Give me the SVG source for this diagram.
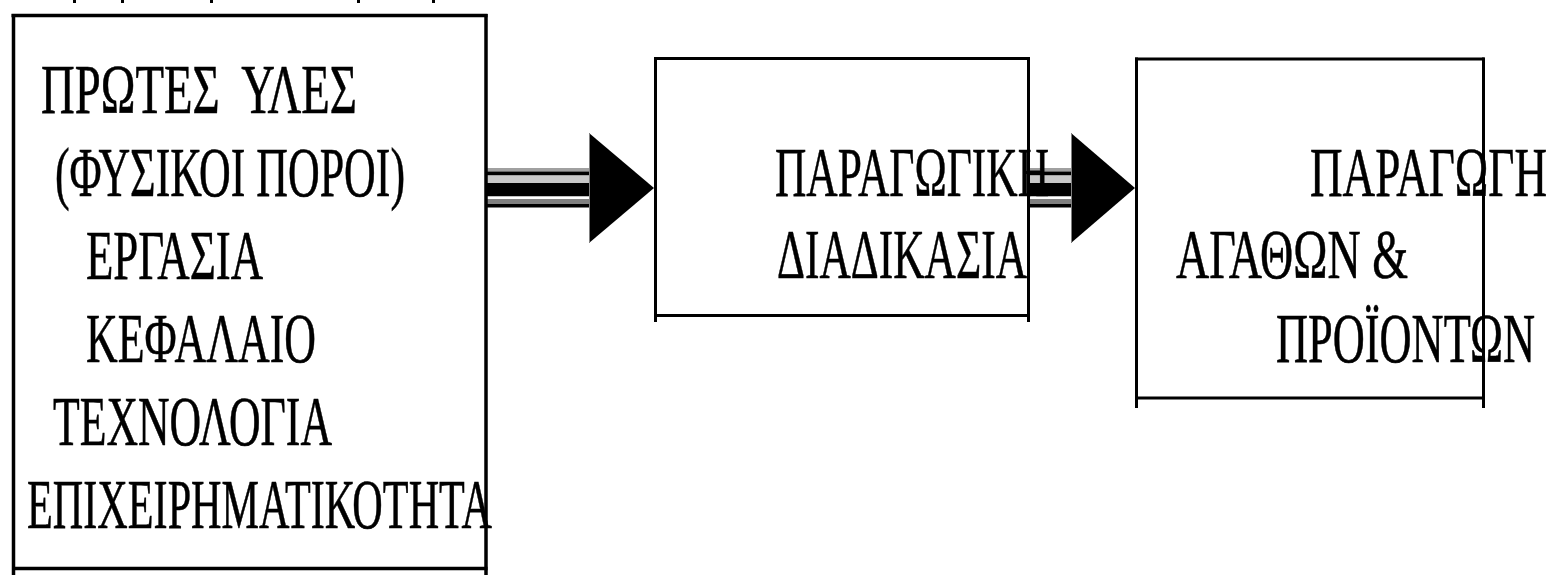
<svg xmlns="http://www.w3.org/2000/svg" width="1552" height="575" viewBox="0 0 1552 575">
<style>
  .t { font-family: "Liberation Serif", "Times New Roman", serif; font-size: 70px; fill: #000; stroke: #000; stroke-width: 0.6; }
  .b { stroke: #000; stroke-width: 3; fill: none; stroke-linecap: butt; }
  .b1 { stroke: #000; stroke-width: 3.5; fill: none; stroke-linecap: butt; }
</style>
<defs>
  <g id="shaft">
    <rect x="0" y="168" width="1" height="3.5" fill="#a0a0a0"/>
    <rect x="0" y="171.5" width="1" height="4" fill="#000"/>
    <rect x="0" y="175.5" width="1" height="7.5" fill="#c8c8c8"/>
    <rect x="0" y="183" width="1" height="13.5" fill="#000"/>
    <rect x="0" y="196.5" width="1" height="2.5" fill="#fff"/>
    <rect x="0" y="199" width="1" height="5" fill="#808080"/>
    <rect x="0" y="204" width="1" height="3.5" fill="#000"/>
  </g>
</defs>
<rect width="1552" height="575" fill="#fff"/>
<g id="top-marks" fill="#000">
  <rect x="73" y="0" width="3" height="3"/>
  <rect x="121" y="0" width="3" height="3"/>
  <rect x="210" y="0" width="3" height="3"/>
  <rect x="357" y="0" width="3" height="3"/>
  <rect x="432" y="0" width="3" height="3"/>
</g>
<g id="connectors">
  <g id="arrow1">
    <use href="#shaft" transform="translate(487 0) scale(102 1)"/>
    <polygon points="589,133 654,188 589,243" fill="#000"/>
    <line x1="589.5" y1="133" x2="589.5" y2="243" stroke="#808080" stroke-width="1"/>
  </g>
  <g id="arrow2">
    <use href="#shaft" transform="translate(1029 0) scale(42 1)"/>
    <polygon points="1071,133 1135,188 1071,243" fill="#000"/>
    <line x1="1071.5" y1="133" x2="1071.5" y2="243" stroke="#808080" stroke-width="1"/>
  </g>
</g>
<g id="node-inputs">
  <line class="b1" x1="11.5" y1="15.5" x2="487.5" y2="15.5"/>
  <line class="b1" x1="13.5" y1="14" x2="13.5" y2="575"/>
  <line class="b1" x1="486" y1="14" x2="486" y2="575"/>
  <line class="b1" x1="12" y1="568.5" x2="487.5" y2="568.5"/>
  <text class="t" x="41" y="113" textLength="316" lengthAdjust="spacingAndGlyphs" xml:space="preserve">ΠΡΩΤΕΣ  ΥΛΕΣ</text>
  <text class="t" x="55" y="196" textLength="350" lengthAdjust="spacingAndGlyphs">(ΦΥΣΙΚΟΙ ΠΟΡΟΙ)</text>
  <text class="t" x="86" y="279" textLength="177" lengthAdjust="spacingAndGlyphs">ΕΡΓΑΣΙΑ</text>
  <text class="t" x="86" y="362" textLength="230" lengthAdjust="spacingAndGlyphs">ΚΕΦΑΛΑΙΟ</text>
  <text class="t" x="53" y="445" textLength="279" lengthAdjust="spacingAndGlyphs">ΤΕΧΝΟΛΟΓΙΑ</text>
  <text class="t" x="27" y="528" textLength="465" lengthAdjust="spacingAndGlyphs">ΕΠΙΧΕΙΡΗΜΑΤΙΚΟΤΗΤΑ</text>
</g>
<g id="node-process">
  <line class="b" x1="654" y1="58.5" x2="1029.5" y2="58.5"/>
  <line class="b" x1="655.5" y1="57" x2="655.5" y2="322"/>
  <line class="b" x1="1028.5" y1="57" x2="1028.5" y2="322"/>
  <line class="b" x1="654" y1="315.5" x2="1029.5" y2="315.5"/>
  <text class="t" x="775" y="196" textLength="274" lengthAdjust="spacingAndGlyphs">ΠΑΡΑΓΩΓΙΚΗ</text>
  <text class="t" x="777" y="278" textLength="250" lengthAdjust="spacingAndGlyphs">ΔΙΑΔΙΚΑΣΙΑ</text>
</g>
<g id="node-output">
  <line class="b" x1="1135" y1="59" x2="1484.5" y2="59"/>
  <line class="b" x1="1136.5" y1="57.5" x2="1136.5" y2="408"/>
  <line class="b" x1="1483.5" y1="57.5" x2="1483.5" y2="408"/>
  <line class="b" x1="1135" y1="398" x2="1484.5" y2="398"/>
  <text class="t" x="1310" y="196" textLength="237" lengthAdjust="spacingAndGlyphs">ΠΑΡΑΓΩΓΗ</text>
  <text class="t" x="1176" y="278" textLength="232" lengthAdjust="spacingAndGlyphs">ΑΓΑΘΩΝ &amp;</text>
  <text class="t" x="1276" y="362" textLength="259" lengthAdjust="spacingAndGlyphs">ΠΡΟΪΟΝΤΩΝ</text>
</g>
</svg>
